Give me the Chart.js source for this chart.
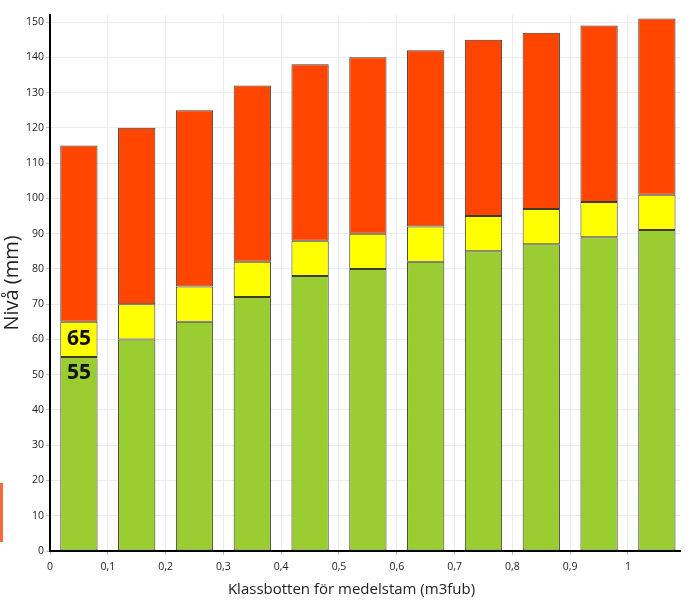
<!DOCTYPE html>
<html>
<head>
<meta charset="utf-8">
<script src="https://cdn.jsdelivr.net/npm/chart.js@4/dist/chart.umd.min.js"></script>
<style>
  html, body { margin: 0; padding: 0; background: #fff; }
  #wrap { position: relative; width: 697px; height: 602px; }
  #edge { position: absolute; left: 0; top: 483px; width: 3px; height: 59px; background: #f26b3a; }
</style>
</head>
<body>
<div id="wrap">
  <canvas id="chart" width="697" height="602"></canvas>
  <div id="edge"></div>
</div>
<script>
// class bottoms (bar centres on the linear x axis)
const classX = [0.05, 0.15, 0.25, 0.35, 0.45, 0.55, 0.65, 0.75, 0.85, 0.95, 1.05]
// level tops per class (mm)
const greenLevel = [55, 60, 65, 72, 78, 80, 82, 85, 87, 89, 91]
const yellowLevel = [65, 70, 75, 82, 88, 90, 92, 95, 97, 99, 101]
const redLevel = [115, 120, 125, 132, 138, 140, 142, 145, 147, 149, 151]
const xTicks = [0, 0.1, 0.2, 0.3, 0.4, 0.5, 0.6, 0.7, 0.8, 0.9, 1]
const xTitle = 'Klassbotten för medelstam (m3fub)'

const segment = (tops, bases) => classX.map((x, i) => ({ x: x, y: tops[i] - (bases ? bases[i] : 0) }))

const edgeColor = '#3f3a30'

function buildDataset (label, data, color) {
  return {
    label: label,
    data: data,
    backgroundColor: color,
    borderColor: edgeColor,
    borderWidth: 1,
    borderSkipped: false,
    barPercentage: 0.645,
    categoryPercentage: 1
  }
}

// bold value labels in the first bar + x axis title
const firstBarLabels = {
  id: 'firstBarLabels',
  afterDatasetsDraw (chart) {
    const ctx = chart.ctx
    const green = chart.getDatasetMeta(0).data[0]
    const yellow = chart.getDatasetMeta(1).data[0]
    ctx.save()
    ctx.fillStyle = '#111'
    ctx.font = 'bold 21px "Open Sans", sans-serif'
    ctx.textAlign = 'center'
    ctx.textBaseline = 'middle'
    ctx.fillText(String(yellowLevel[0]), yellow.x, (yellow.y + yellow.base) / 2)
    ctx.fillText(String(greenLevel[0]), green.x, green.y + 16)

    ctx.font = '15px "Open Sans", sans-serif'
    ctx.fillStyle = '#222'
    ctx.fillText(xTitle, chart.width / 2 + 3, chart.height - 12)
    ctx.restore()
  }
}

const tickFont = { family: '"Open Sans", sans-serif', size: 10.5 }

new Chart(document.getElementById('chart'), {
  type: 'bar',
  data: {
    datasets: [
      buildDataset('green', segment(greenLevel), '#9acd32'),
      buildDataset('yellow', segment(yellowLevel, greenLevel), '#ffff00'),
      buildDataset('red', segment(redLevel, yellowLevel), '#ff4500')
    ]
  },
  options: {
    responsive: false,
    animation: false,
    layout: { padding: { left: 0, right: 17, top: 15, bottom: 0 } },
    plugins: {
      legend: { display: false },
      tooltip: { enabled: false }
    },
    scales: {
      x: {
        type: 'linear',
        stacked: true,
        offset: false,
        min: 0,
        max: 1.09,
        afterFit: (s) => { s.height = 51 },
        afterBuildTicks: (s) => { s.ticks = xTicks.map(v => ({ value: v })) },
        border: { color: '#000', width: 2 },
        grid: { offset: false, color: '#ececec', tickLength: 4, tickColor: '#bbb' },
        ticks: {
          font: tickFont,
          color: '#222',
          padding: 6,
          maxRotation: 0,
          callback: (v) => String(Math.round(v * 10) / 10).replace('.', ',')
        }
      },
      y: {
        stacked: true,
        min: 0,
        max: 152,
        afterFit: (s) => { s.width = 50 },
        border: { color: '#000', width: 2 },
        grid: { color: '#ececec', tickLength: 4, tickColor: '#bbb' },
        ticks: {
          stepSize: 10,
          includeBounds: false,
          font: tickFont,
          color: '#222',
          padding: 2
        },
        title: {
          display: true,
          text: 'Nivå (mm)',
          font: { family: '"Open Sans", sans-serif', size: 20 },
          color: '#222',
          padding: { top: 0, bottom: 4 }
        }
      }
    }
  },
  plugins: [firstBarLabels]
})
</script>
</body>
</html>
